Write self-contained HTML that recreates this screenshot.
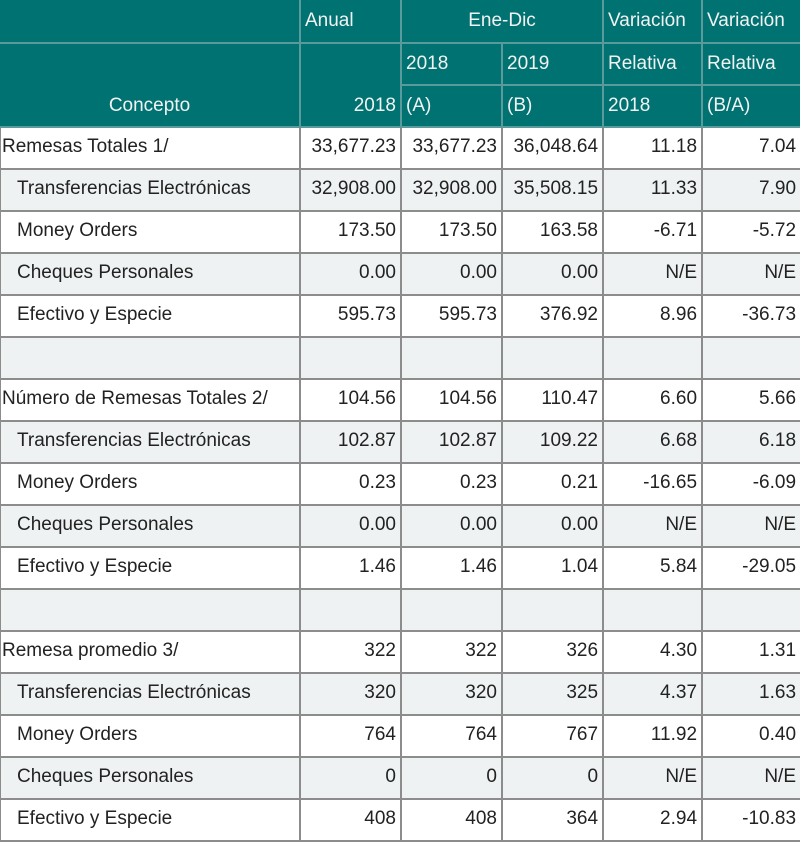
<!DOCTYPE html>
<html><head><style>
body{margin:0;width:800px;height:839px;overflow:hidden;background:#fff;font-family:"Liberation Sans",sans-serif;}
table{border-collapse:collapse;table-layout:fixed;width:801px;position:absolute;left:-1px;top:0;font-size:19px;color:#222;}
td{height:38px;border:2px solid #8c8c8c;padding:0 4px 2px 4px;white-space:nowrap;overflow:hidden;text-align:right;}
th{height:40px;border:2px solid #5a9a9a;background:#007272;color:#f2f2f2;font-weight:normal;text-align:left;padding:0 4px;white-space:nowrap;}
tr.h1 th{height:42px;}
tr.g td{background:#eef2f2;}
td.c{text-align:left;padding-left:1px;}
td.s{text-align:left;padding-left:16px;}
</style></head><body>
<table>
<colgroup><col style="width:300px"><col style="width:101px"><col style="width:101px"><col style="width:101px"><col style="width:99px"><col style="width:99px"></colgroup>
<tr class="h1"><th style="border-top:0;border-left:0"></th><th style="border-top:0">Anual</th><th colspan="2" style="text-align:center;border-top:0">Ene-Dic</th><th style="border-top:0">Variación</th><th style="border-top:0;border-right:0">Variación</th></tr>
<tr><th style="border-top:0;border-bottom:0;border-left:0"></th><th style="border-bottom:0"></th><th>2018</th><th>2019</th><th>Relativa</th><th style="border-right:0">Relativa</th></tr>
<tr><th style="text-align:center;border-top:0;border-left:0">Concepto</th><th style="text-align:right;border-top:0">2018</th><th>(A)</th><th>(B)</th><th>2018</th><th style="border-right:0">(B/A)</th></tr>
<tr><td class="c">Remesas Totales 1/</td><td>33,677.23</td><td>33,677.23</td><td>36,048.64</td><td>11.18</td><td>7.04</td></tr>
<tr class="g"><td class="s">Transferencias Electrónicas</td><td>32,908.00</td><td>32,908.00</td><td>35,508.15</td><td>11.33</td><td>7.90</td></tr>
<tr><td class="s">Money Orders</td><td>173.50</td><td>173.50</td><td>163.58</td><td>-6.71</td><td>-5.72</td></tr>
<tr class="g"><td class="s">Cheques Personales</td><td>0.00</td><td>0.00</td><td>0.00</td><td>N/E</td><td>N/E</td></tr>
<tr><td class="s">Efectivo y Especie</td><td>595.73</td><td>595.73</td><td>376.92</td><td>8.96</td><td>-36.73</td></tr>
<tr class="g"><td></td><td></td><td></td><td></td><td></td><td></td></tr>
<tr><td class="c">Número de Remesas Totales 2/</td><td>104.56</td><td>104.56</td><td>110.47</td><td>6.60</td><td>5.66</td></tr>
<tr class="g"><td class="s">Transferencias Electrónicas</td><td>102.87</td><td>102.87</td><td>109.22</td><td>6.68</td><td>6.18</td></tr>
<tr><td class="s">Money Orders</td><td>0.23</td><td>0.23</td><td>0.21</td><td>-16.65</td><td>-6.09</td></tr>
<tr class="g"><td class="s">Cheques Personales</td><td>0.00</td><td>0.00</td><td>0.00</td><td>N/E</td><td>N/E</td></tr>
<tr><td class="s">Efectivo y Especie</td><td>1.46</td><td>1.46</td><td>1.04</td><td>5.84</td><td>-29.05</td></tr>
<tr class="g"><td></td><td></td><td></td><td></td><td></td><td></td></tr>
<tr><td class="c">Remesa promedio 3/</td><td>322</td><td>322</td><td>326</td><td>4.30</td><td>1.31</td></tr>
<tr class="g"><td class="s">Transferencias Electrónicas</td><td>320</td><td>320</td><td>325</td><td>4.37</td><td>1.63</td></tr>
<tr><td class="s">Money Orders</td><td>764</td><td>764</td><td>767</td><td>11.92</td><td>0.40</td></tr>
<tr class="g"><td class="s">Cheques Personales</td><td>0</td><td>0</td><td>0</td><td>N/E</td><td>N/E</td></tr>
<tr><td class="s">Efectivo y Especie</td><td>408</td><td>408</td><td>364</td><td>2.94</td><td>-10.83</td></tr>
</table>
</body></html>
